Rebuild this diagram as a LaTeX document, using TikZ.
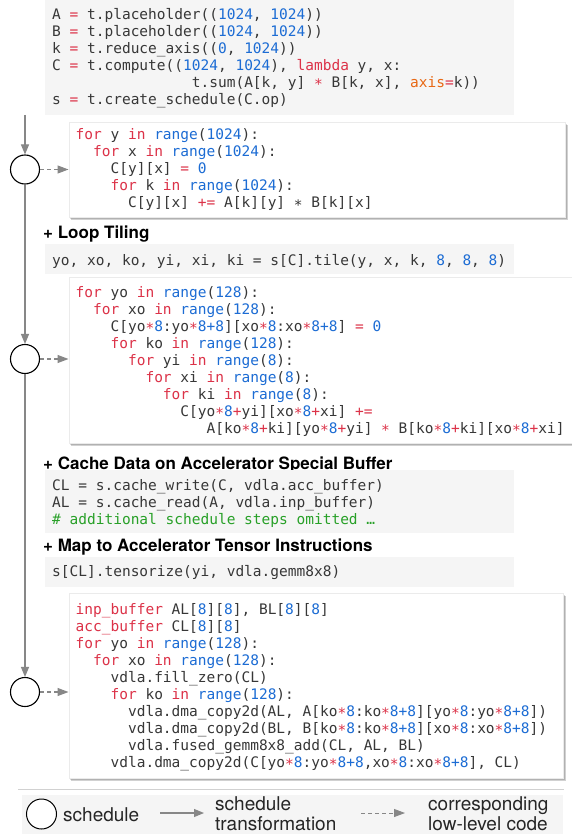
\documentclass[tikz,border=0pt]{standalone}
\usepackage{fontspec}
\newfontfamily\cfont{DejaVu Sans Mono}
\newfontfamily\hfont{TeX Gyre Heros}
\usetikzlibrary{arrows.meta,shadows}
\definecolor{kwc}{RGB}{220,50,72}
\definecolor{nmc}{RGB}{28,108,212}
\definecolor{arc}{RGB}{232,104,20}
\definecolor{cmc}{RGB}{40,160,40}
\definecolor{txc}{RGB}{55,55,55}
\definecolor{gbg}{RGB}{245,245,245}
\definecolor{lnc}{RGB}{135,135,135}
\newcommand\cK[1]{\textcolor{kwc}{#1}}
\newcommand\cN[1]{\textcolor{nmc}{#1}}
\newcommand\cA[1]{\textcolor{arc}{#1}}
\newcommand\cC[1]{\textcolor{cmc}{#1}}
\newcommand\St{\textcolor{kwc}{\raisebox{-0.18em}{*}}}
\newcommand\Sp{\raisebox{-0.18em}{*}}
\newcommand\codeblk[1]{{\cfont\fontsize{14.5}{17}\selectfont\color{txc}\begin{tabular}[t]{@{}l@{}}#1\end{tabular}}}
\newcommand\legblk[1]{{\hfont\fontsize{19}{20}\selectfont\begin{tabular}[t]{@{}l@{}}#1\end{tabular}}}
\tikzset{
  gbox/.style={fill=gbg},
  wbox/.style={draw=black!8, fill=white, inner sep=0, anchor=north west,
    general shadow={fill=black, opacity=.12, shadow xshift=0.5pt, shadow yshift=-1pt},
    general shadow={fill=black, opacity=.15, shadow xshift=1.5pt, shadow yshift=-2pt},
    general shadow={fill=black, opacity=.18, shadow xshift=2.5pt, shadow yshift=-3pt}},
  code/.style={anchor=base west, inner sep=0},
  head/.style={anchor=base west, inner sep=0, font=\hfont\bfseries\fontsize{17}{18}\selectfont},
  sched/.style={circle, draw=black, line width=1.1pt, fill=white, minimum size=29pt, inner sep=0},
  flow/.style={draw=lnc, line width=1.1pt, -{Triangle[length=10pt,width=8pt,fill=lnc]}},
  impl/.style={draw=lnc, line width=1.1pt, dash pattern=on 4pt off 3pt, -{Triangle[length=11pt,width=8pt,fill=lnc]}},
}
\begin{document}
\begin{tikzpicture}[x=1pt,y=-1pt]
\useasboundingbox (0,0) rectangle (572,834);
\fill[white] (0,0) rectangle (572,834);
% top grey block
\fill[gbox] (44.5,0) rectangle (514,115);
\node[code] (c0) at (52,19.3) {\codeblk{%
A \cK{=} t.placeholder((\cN{1024}, \cN{1024}))\\
B \cK{=} t.placeholder((\cN{1024}, \cN{1024}))\\
k \cK{=} t.reduce\_axis((\cN{0}, \cN{1024}))\\
C \cK{=} t.compute((\cN{1024}, \cN{1024}), \cK{lambda} y, x:\\
~~~~~~~~~~~~~~~~t.sum(A[k, y] \St{} B[k, x], \cA{axis}\cK{=}k))\\
s \cK{=} t.create\_schedule(C.op)}};
\coordinate (top) at (25,115);
% schedule circles
\node[sched] (s1) at (25,169.5) {};
\node[sched] (s2) at (25,359) {};
\node[sched] (s3) at (25,692) {};
\draw[flow] (top) -- (s1);
\draw[flow] (s1) -- (s2);
\draw[flow] (s2) -- (s3);
% box 1
\node[wbox, minimum width=496.5pt, minimum height=95pt] (b1) at (68.5,122) {};
\node[code] (c1) at (75.5,140) {\codeblk{%
\cK{for} y \cK{in} \cN{range}(\cN{1024}):\\
~~\cK{for} x \cK{in} \cN{range}(\cN{1024}):\\
~~~~C[y][x] \cK{=} \cN{0}\\
~~~~\cK{for} k \cK{in} \cN{range}(\cN{1024}):\\
~~~~~~C[y][x] \cK{+=} A[k][y] \Sp{} B[k][x]}};
\draw[impl] (s1) -- (s1 -| b1.west);
% loop tiling
\node[head] (h1) at (43,238.5) {+ Loop Tiling};
\fill[gbox] (44.5,244) rectangle (514,274);
\node[code] (c2) at (52,265.7) {\codeblk{%
yo, xo, ko, yi, xi, ki = s[C].tile(y, x, k, \cN{8}, \cN{8}, \cN{8})}};
% box 2
\node[wbox, minimum width=505pt, minimum height=166pt] (b2) at (68.5,277) {};
\node[code] (c3) at (75.5,297.3) {\codeblk{%
\cK{for} yo \cK{in} \cN{range}(\cN{128}):\\
~~\cK{for} xo \cK{in} \cN{range}(\cN{128}):\\
~~~~C[yo\St\cN{8}:yo\St\cN{8+8}][xo\St\cN{8}:xo\St\cN{8+8}] \cK{=} \cN{0}\\
~~~~\cK{for} ko \cK{in} \cN{range}(\cN{128}):\\
~~~~~~\cK{for} yi \cK{in} \cN{range}(\cN{8}):\\
~~~~~~~~\cK{for} xi \cK{in} \cN{range}(\cN{8}):\\
~~~~~~~~~~\cK{for} ki \cK{in} \cN{range}(\cN{8}):\\
~~~~~~~~~~~~C[yo\St\cN{8}\cK{+}yi][xo\St\cN{8}\cK{+}xi] \cK{+=}\\
~~~~~~~~~~~~~~~A[ko\St\cN{8}\cK{+}ki][yo\St\cN{8}\cK{+}yi] \St{} B[ko\St\cN{8}\cK{+}ki][xo\St\cN{8}\cK{+}xi]}};
\draw[impl] (s2) -- (s2 -| b2.west);
% cache
\node[head] (h2) at (43,469.3) {+ Cache Data on Accelerator Special Buffer};
\fill[gbox] (44.5,470) rectangle (514,533);
\node[code] (c4) at (52,490) {\codeblk{%
CL = s.cache\_write(C, vdla.acc\_buffer)\\
AL = s.cache\_read(A, vdla.inp\_buffer)\\
\cC{\# additional schedule steps omitted …}}};
% tensorize
\node[head] (h3) at (43,551) {+ Map to Accelerator Tensor Instructions};
\fill[gbox] (44.5,556.5) rectangle (514,587);
\node[code] (c5) at (52,576.7) {\codeblk{s[CL].tensorize(yi, vdla.gemm8x8)}};
% box 3
\node[wbox, minimum width=494.5pt, minimum height=185pt] (b3) at (68.5,593) {};
\node[code] (c6) at (75.5,614) {\codeblk{%
\cK{inp\_buffer} AL[\cN{8}][\cN{8}], BL[\cN{8}][\cN{8}]\\
\cK{acc\_buffer} CL[\cN{8}][\cN{8}]\\
\cK{for} yo \cK{in} \cN{range}(\cN{128}):\\
~~\cK{for} xo \cK{in} \cN{range}(\cN{128}):\\
~~~~vdla.fill\_zero(CL)\\
~~~~\cK{for} ko \cK{in} \cN{range}(\cN{128}):\\
~~~~~~vdla.dma\_copy2d(AL, A[ko\St\cN{8}:ko\St\cN{8+8}][yo\St\cN{8}:yo\St\cN{8+8}])\\
~~~~~~vdla.dma\_copy2d(BL, B[ko\St\cN{8}:ko\St\cN{8+8}][xo\St\cN{8}:xo\St\cN{8+8}])\\
~~~~~~vdla.fused\_gemm8x8\_add(CL, AL, BL)\\
~~~~vdla.dma\_copy2d(C[yo\St\cN{8}:yo\St\cN{8+8},xo\St\cN{8}:xo\St\cN{8+8}], CL)}};
\draw[impl] (s3) -- (s3 -| b3.west);
% legend
\coordinate (sepL) at (18,789.5);
\coordinate (sepR) at (564,789.5);
\draw[black!18, line width=1pt] (sepL) -- (sepR);
\fill[gbox] (22,795) rectangle (563,834);
\node[sched, minimum size=30pt, line width=1pt] (lc) at (41.5,814) {};
\node[anchor=base west, inner sep=0, font=\hfont\fontsize{19}{20}\selectfont, text=black!85] (l1) at (63,821) {schedule};
\coordinate (fa) at (160,813);
\coordinate (fb) at (204,813);
\draw[flow] (fa) -- (fb);
\node[code, text=black!85] (l2) at (215,810) {\legblk{schedule\\transformation}};
\coordinate (da) at (361,813);
\coordinate (db) at (405,813);
\draw[impl, line width=0.9pt] (da) -- (db);
\node[code, text=black!85] (l3) at (428,810) {\legblk{corresponding\\low-level code}};
\end{tikzpicture}
\end{document}
